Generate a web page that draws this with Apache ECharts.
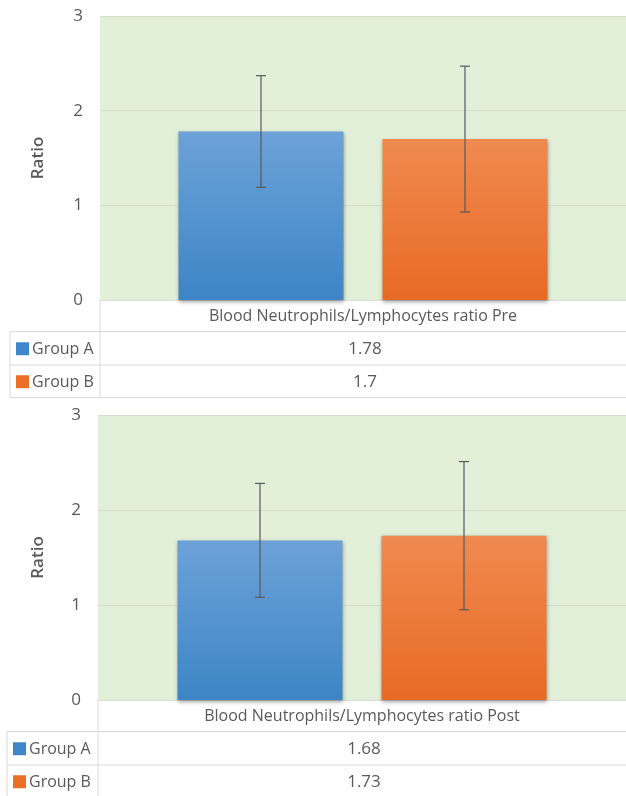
<!DOCTYPE html>
<html>
<head>
<meta charset="utf-8">
<script src="https://cdn.jsdelivr.net/npm/echarts@6/dist/echarts.min.js"></script>
<style>
html,body{margin:0;padding:0;background:#fff;}
#chart{width:626px;height:796px;}
</style>
</head>
<body>
<div id="chart"></div>
<script>
// ---- data ----
const categoriesPre = ['Blood Neutrophils/Lymphocytes ratio Pre'];
const categoriesPost = ['Blood Neutrophils/Lymphocytes ratio Post'];
const groupNames = ['Group A', 'Group B'];
const preGroupA = [1.78];
const preGroupB = [1.7];
const postGroupA = [1.68];
const postGroupB = [1.73];
const preErrA = [0.59];
const preErrB = [0.77];
const postErrA = [0.60];
const postErrB = [0.78];
const yTickMin = 0, yTickMax = 3, yTickStep = 1;
const yAxisName = 'Ratio';

// ---- layout/style ----
const FONT = '"Open Sans", "Noto Sans", sans-serif';
const TXT = '#595959';
const LINE = '#d9d9d9';
const BAR_W = 165, BAR_GAP = 39;
const panels = [
  {left: 100, top: 16, height: 284, tableLeft: 10, cats: categoriesPre, a: preGroupA, b: preGroupB, ea: preErrA, eb: preErrB},
  {left: 98, top: 415, height: 285, tableLeft: 7, cats: categoriesPost, a: postGroupA, b: postGroupB, ea: postErrA, eb: postErrB}
];
const ROW_H = 32.5;
const W = 626;

const blueGrad = new echarts.graphic.LinearGradient(0, 0, 0, 1, [
  {offset: 0, color: '#6ca2d8'}, {offset: 1, color: '#3d85c6'}
]);
const orangeGrad = new echarts.graphic.LinearGradient(0, 0, 0, 1, [
  {offset: 0, color: '#f08a50'}, {offset: 1, color: '#e86a24'}
]);
const colors = ['#3f86c8', '#ec6f28'];

function errRender(offset) {
  return function (params, api) {
    const idx = api.value(0), v = api.value(1), e = api.value(2);
    const hi = api.coord([idx, v + e]);
    const lo = api.coord([idx, v - e]);
    const x = hi[0] + offset;
    const st = {stroke: '#595959', lineWidth: 1.2};
    return {
      type: 'group',
      children: [
        {type: 'line', shape: {x1: x, y1: hi[1], x2: x, y2: lo[1]}, style: st},
        {type: 'line', shape: {x1: x - 5, y1: hi[1], x2: x + 5, y2: hi[1]}, style: st},
        {type: 'line', shape: {x1: x - 5, y1: lo[1], x2: x + 5, y2: lo[1]}, style: st}
      ]
    };
  };
}

const grids = [], xAxes = [], yAxes = [], series = [], graphics = [];
panels.forEach((p, i) => {
  grids.push({left: p.left, top: p.top, height: p.height, right: -4, show: true,
    backgroundColor: '#e2efd9', borderWidth: 0});
  xAxes.push({type: 'category', gridIndex: i, data: p.cats,
    axisTick: {show: false}, axisLine: {show: true, lineStyle: {color: LINE}},
    axisLabel: {fontSize: 16, color: TXT, fontFamily: FONT, margin: 8}});
  yAxes.push({type: 'value', gridIndex: i, min: yTickMin, max: yTickMax, interval: yTickStep,
    name: yAxisName, nameLocation: 'middle', nameGap: p.left - 47, nameRotate: 90,
    nameTextStyle: {fontSize: 17, fontWeight: 600, color: TXT, fontFamily: FONT},
    axisLine: {show: false}, axisTick: {show: false},
    axisLabel: {fontSize: 17, color: TXT, fontFamily: FONT, margin: 17},
    splitLine: {lineStyle: {color: '#d3dccd', width: 1}}});
  const shadow = {shadowColor: 'rgba(0,0,0,0.35)', shadowBlur: 4, shadowOffsetY: 1.5};
  series.push({type: 'bar', name: groupNames[0], xAxisIndex: i, yAxisIndex: i, data: p.a,
    barWidth: BAR_W, barGap: (BAR_GAP / BAR_W * 100) + '%',
    itemStyle: Object.assign({color: blueGrad}, shadow)});
  series.push({type: 'bar', name: groupNames[1], xAxisIndex: i, yAxisIndex: i, data: p.b,
    barWidth: BAR_W, itemStyle: Object.assign({color: orangeGrad}, shadow)});
  const off = (BAR_W + BAR_GAP) / 2;
  series.push({type: 'custom', xAxisIndex: i, yAxisIndex: i, z: 10,
    renderItem: errRender(-off), encode: {x: 0, y: 1},
    data: p.a.map((v, k) => [k, v, p.ea[k]])});
  series.push({type: 'custom', xAxisIndex: i, yAxisIndex: i, z: 10,
    renderItem: errRender(off), encode: {x: 0, y: 1},
    data: p.b.map((v, k) => [k, v, p.eb[k]])});

  // data table
  const y0 = p.top + p.height;
  const y1 = y0 + ROW_H - 1, y2 = y1 + ROW_H + 1, y3 = y2 + ROW_H;
  const ls = {stroke: LINE, lineWidth: 1};
  graphics.push({type: 'line', shape: {x1: p.left, y1: y0, x2: p.left, y2: y3}, style: ls, silent: true});
  graphics.push({type: 'line', shape: {x1: p.tableLeft, y1: y1, x2: p.tableLeft, y2: y3}, style: ls, silent: true});
  [y1, y2, y3].forEach(yy => graphics.push({type: 'line',
    shape: {x1: p.tableLeft, y1: yy, x2: W, y2: yy}, style: ls, silent: true}));
  const cx = p.left + (W + 4 - p.left) / 2;
  const rows = [[groupNames[0], p.a[0], colors[0], (y1 + y2) / 2], [groupNames[1], p.b[0], colors[1], (y2 + y3) / 2]];
  rows.forEach(r => {
    graphics.push({type: 'rect', shape: {x: p.tableLeft + 6, y: r[3] - 6, width: 13, height: 13},
      style: {fill: r[2]}, silent: true});
    graphics.push({type: 'text', x: p.tableLeft + 22, y: r[3] + 1,
      style: {text: r[0], fill: TXT, fontSize: 16, fontFamily: FONT, align: 'left', verticalAlign: 'middle'}, silent: true});
    graphics.push({type: 'text', x: cx, y: r[3] + 1,
      style: {text: String(r[1]), fill: TXT, fontSize: 17, fontFamily: FONT, align: 'center', verticalAlign: 'middle'}, silent: true});
  });
});

const chart = echarts.init(document.getElementById('chart'));
chart.setOption({
  animation: false,
  grid: grids, xAxis: xAxes, yAxis: yAxes, series: series, graphic: graphics
});
</script>
</body>
</html>
